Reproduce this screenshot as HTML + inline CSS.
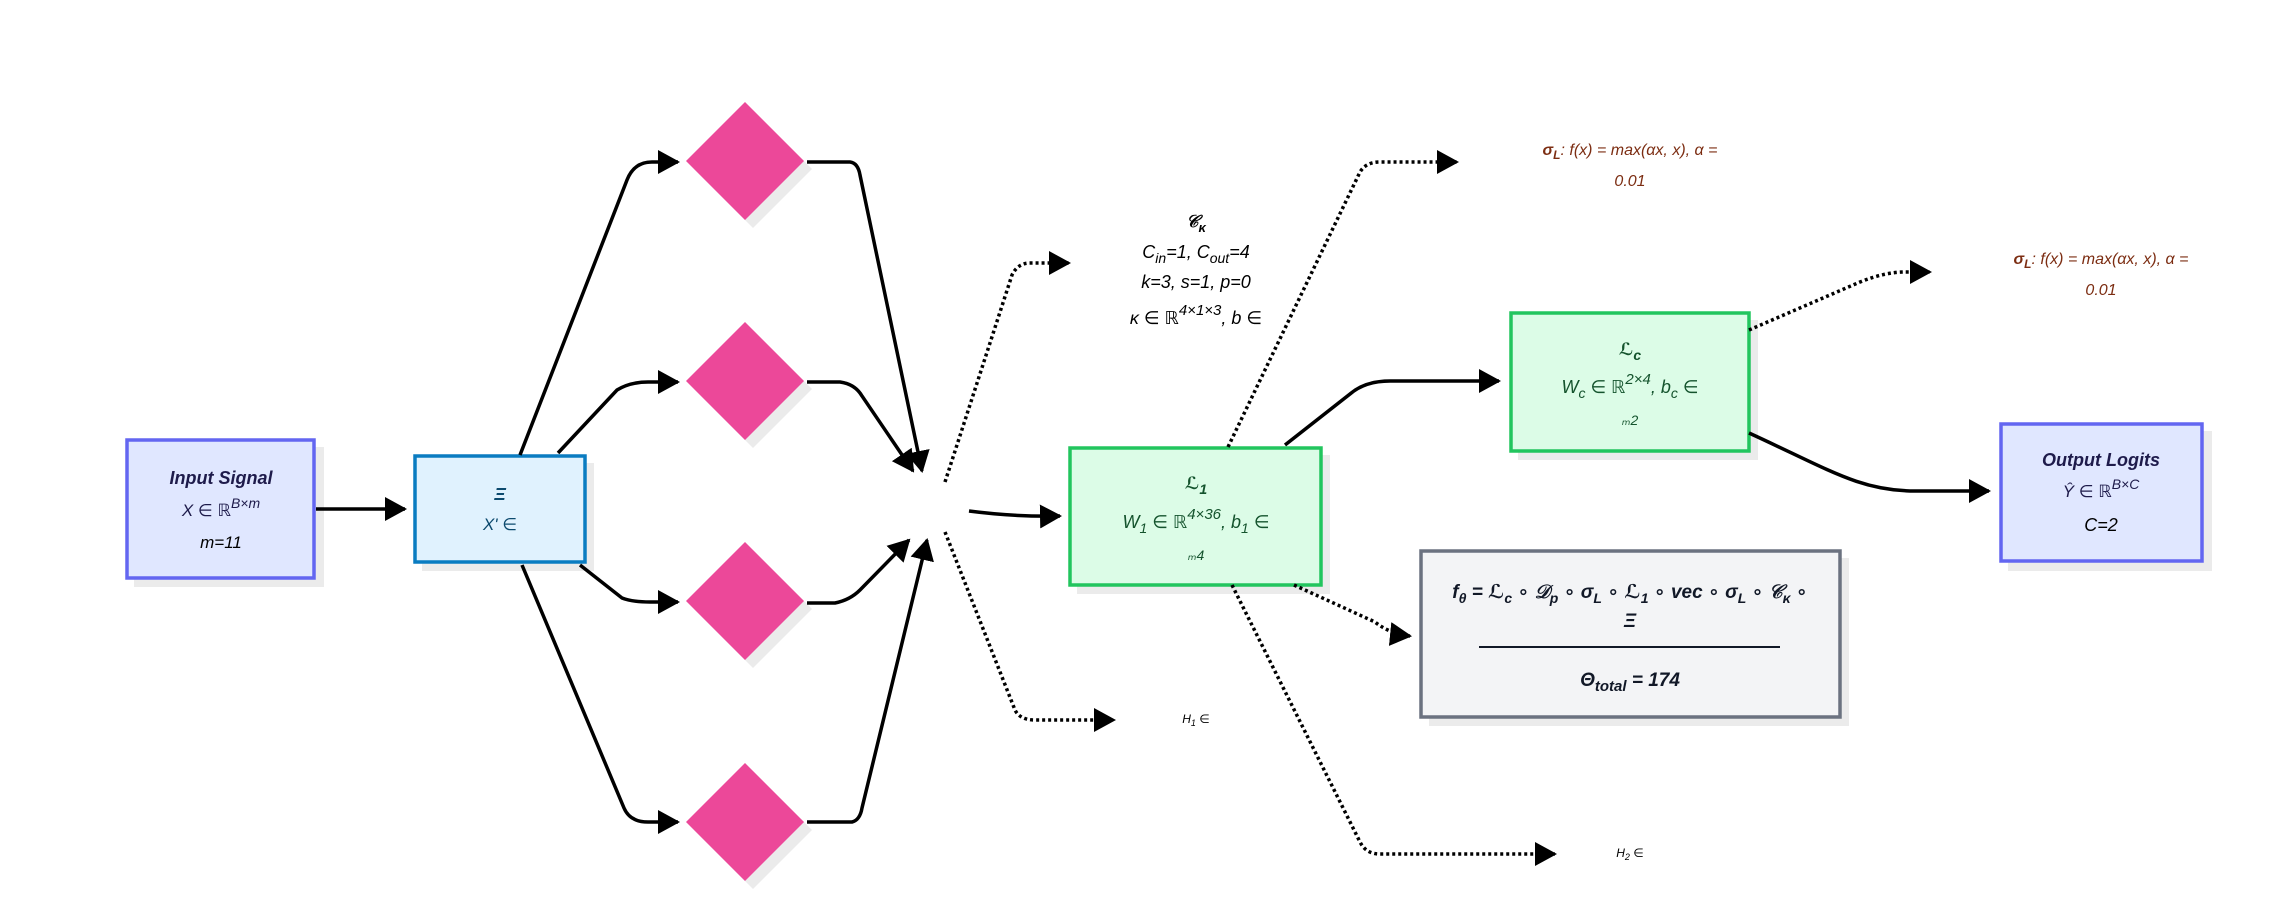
<!DOCTYPE html>
<html><head><meta charset="utf-8"><style>
html,body{margin:0;padding:0;background:#fff;}
svg{display:block;}
text{font-family:"Liberation Sans","DejaVu Sans",sans-serif;font-style:italic;}
</style></head><body>
<svg width="2279" height="904" viewBox="0 0 2279 904" xmlns="http://www.w3.org/2000/svg">
<defs>
<marker id="A" markerWidth="22" markerHeight="24" refX="20" refY="12" orient="auto" markerUnits="userSpaceOnUse">
<path d="M0,0 L22,12 L0,24 z" fill="#000"/></marker>
</defs>

<g fill="#ebebeb">
<rect x="134" y="447" width="190" height="140"/>
<rect x="422" y="463" width="172" height="108"/>
<rect x="1077" y="455" width="253" height="139"/>
<rect x="1518" y="320" width="240" height="140"/>
<rect x="2008" y="431" width="204" height="140"/>
<rect x="1429" y="558" width="420" height="168"/>
</g>
<g fill="#ebebeb">
<path d="M753,110 L812,169 L753,228 L694,169 z"/>
<path d="M753,330 L812,389 L753,448 L694,389 z"/>
<path d="M753,550 L812,609 L753,668 L694,609 z"/>
<path d="M753,771 L812,830 L753,889 L694,830 z"/>
</g>

<rect x="127" y="440" width="187" height="138" fill="#e0e7ff" stroke="#6366f1" stroke-width="3.5"/>
<rect x="415" y="456" width="170" height="106" fill="#e0f2fe" stroke="#0a7cc1" stroke-width="3.5"/>
<rect x="1070" y="448" width="251" height="137" fill="#dcfce7" stroke="#22c55e" stroke-width="3.5"/>
<rect x="1511" y="313" width="238" height="138" fill="#dcfce7" stroke="#22c55e" stroke-width="3.5"/>
<rect x="2001" y="424" width="201" height="137" fill="#e0e7ff" stroke="#6366f1" stroke-width="3.5"/>
<rect x="1421" y="551" width="419" height="166" fill="#f3f4f6" stroke="#6b7280" stroke-width="3.5"/>

<g fill="#ec4899">
<path d="M745,102 L804,161 L745,220 L686,161 z"/>
<path d="M745,322 L804,381 L745,440 L686,381 z"/>
<path d="M745,542 L804,601 L745,660 L686,601 z"/>
<path d="M745,763 L804,822 L745,881 L686,822 z"/>
</g>

<g fill="none" stroke="#000" stroke-width="3.5" marker-end="url(#A)">
<path d="M316,509 L405,509"/>
<path d="M520,455 L627,180 Q634,162 652,162 L678,162"/>
<path d="M558,453 L617,390 Q630,382 648,382 L678,382"/>
<path d="M580,565 L622,598 Q632,602 650,602 L678,602"/>
<path d="M522,565 L624,808 Q630,822 648,822 L678,822"/>
<path d="M807,162 L850,162 Q858,163 860,175 L922,471"/>
<path d="M807,382 L840,382 Q855,384 862,396 L913,471"/>
<path d="M807,603 L835,603 Q850,600 860,590 L909,540"/>
<path d="M807,822 L852,822 Q860,820 862,808 L927,540"/>
<path d="M969,511 Q1015,517 1060,516"/>
<path d="M1285,445 L1350,394 Q1365,381 1390,381 L1499,381"/>
<path d="M1749,433 C1830,470 1860,491 1915,491 L1989,491"/>
</g>

<g fill="none" stroke="#000" stroke-width="3.5" stroke-dasharray="3,3" marker-end="url(#A)">
<path d="M945,482 L1012,275 Q1018,263 1030,263 L1069,263"/>
<path d="M945,532 L1015,710 Q1020,720 1035,720 L1114,720"/>
<path d="M1228,447 L1360,172 Q1366,162 1380,162 L1457,162"/>
<path d="M1749,330 L1860,282 Q1885,272 1905,272 L1930,272"/>
<path d="M1294,585 L1375,622 Q1390,634 1410,636"/>
<path d="M1232,585 L1360,842 Q1366,854 1380,854 L1555,854"/>
</g>

<g text-anchor="middle">
<text x="221" y="484" font-size="18" font-weight="bold" fill="#1e1b4b">Input Signal</text>
<text x="221" y="516" font-size="17" fill="#1e1b4b">X ∈ ℝ<tspan dy="-8" font-size="14">B×m</tspan></text>
<text x="221" y="548" font-size="17" fill="#000">m=11</text>

<text x="500" y="500" font-size="18" font-weight="bold" fill="#0c4a6e">Ξ</text>
<text x="500" y="530" font-size="17" fill="#0c4a6e">X' ∈</text>

<text x="1196" y="227" font-size="17" font-weight="bold" fill="#000">𝒞<tspan dy="5" font-size="13">κ</tspan></text>
<text x="1196" y="258" font-size="18" fill="#000">C<tspan dy="5" font-size="14">in</tspan><tspan dy="-5">=1, C</tspan><tspan dy="5" font-size="14">out</tspan><tspan dy="-5">=4</tspan></text>
<text x="1196" y="288" font-size="18" fill="#000">k=3, s=1, p=0</text>
<svg x="1000" y="290" width="400" height="37" overflow="hidden"><text x="196" y="34" font-size="18" fill="#000" text-anchor="middle">κ ∈ ℝ<tspan dy="-9" font-size="15">4×1×3</tspan><tspan dy="9">, b ∈</tspan></text></svg>

<text x="1196" y="489" font-size="17" font-weight="bold" fill="#14532d">ℒ<tspan dy="5" font-size="14">1</tspan></text>
<text x="1196" y="528" font-size="18" fill="#14532d">W<tspan dy="5" font-size="14">1</tspan><tspan dy="-5"> ∈ ℝ</tspan><tspan dy="-9" font-size="15">4×36</tspan><tspan dy="9">, b</tspan><tspan dy="5" font-size="14">1</tspan><tspan dy="-5"> ∈</tspan></text>
<text x="1196" y="560" font-size="14" fill="#14532d">ₘ4</text>

<text x="1630" y="355" font-size="17" font-weight="bold" fill="#14532d">ℒ<tspan dy="5" font-size="14">c</tspan></text>
<text x="1630" y="393" font-size="18" fill="#14532d">W<tspan dy="5" font-size="14">c</tspan><tspan dy="-5"> ∈ ℝ</tspan><tspan dy="-9" font-size="15">2×4</tspan><tspan dy="9">, b</tspan><tspan dy="5" font-size="14">c</tspan><tspan dy="-5"> ∈</tspan></text>
<text x="1630" y="425" font-size="14" fill="#14532d">ₘ2</text>

<text x="2101" y="466" font-size="18" font-weight="bold" fill="#1e1b4b">Output Logits</text>
<text x="2101" y="497" font-size="17" fill="#1e1b4b">Ŷ ∈ ℝ<tspan dy="-8" font-size="14">B×C</tspan></text>
<text x="2101" y="531" font-size="18" fill="#000">C=2</text>

<text x="1630" y="155" font-size="16" fill="#7c2d12"><tspan font-weight="bold">σ<tspan dy="4" font-size="12">L</tspan></tspan><tspan dy="-4">: f(x) = max(αx, x), α =</tspan></text>
<text x="1630" y="186" font-size="16" fill="#7c2d12">0.01</text>
<text x="2101" y="264" font-size="16" fill="#7c2d12"><tspan font-weight="bold">σ<tspan dy="4" font-size="12">L</tspan></tspan><tspan dy="-4">: f(x) = max(αx, x), α =</tspan></text>
<text x="2101" y="295" font-size="16" fill="#7c2d12">0.01</text>

<text x="1630" y="598" font-size="19" font-weight="bold" fill="#111827">f<tspan dy="5" font-size="14">θ</tspan><tspan dy="-5"> = ℒ</tspan><tspan dy="5" font-size="14">c</tspan><tspan dy="-5"> ∘ 𝒟</tspan><tspan dy="5" font-size="14">p</tspan><tspan dy="-5"> ∘ σ</tspan><tspan dy="5" font-size="14">L</tspan><tspan dy="-5"> ∘ ℒ</tspan><tspan dy="5" font-size="14">1</tspan><tspan dy="-5"> ∘ vec ∘ σ</tspan><tspan dy="5" font-size="14">L</tspan><tspan dy="-5"> ∘ 𝒞</tspan><tspan dy="5" font-size="14">κ</tspan><tspan dy="-5"> ∘</tspan></text>
<text x="1630" y="627" font-size="19" font-weight="bold" fill="#111827">Ξ</text>
<text x="1630" y="686" font-size="19" font-weight="bold" fill="#111827">Θ<tspan dy="5" font-size="15">total</tspan><tspan dy="-5"> = 174</tspan></text>

<text x="1196" y="723" font-size="12" fill="#000">H<tspan dy="3" font-size="9">1</tspan><tspan dy="-3"> ∈</tspan></text>
<text x="1630" y="857" font-size="12" fill="#000">H<tspan dy="3" font-size="9">2</tspan><tspan dy="-3"> ∈</tspan></text>
</g>
<line x1="1479" y1="647" x2="1780" y2="647" stroke="#111827" stroke-width="2"/>
</svg>
</body></html>
